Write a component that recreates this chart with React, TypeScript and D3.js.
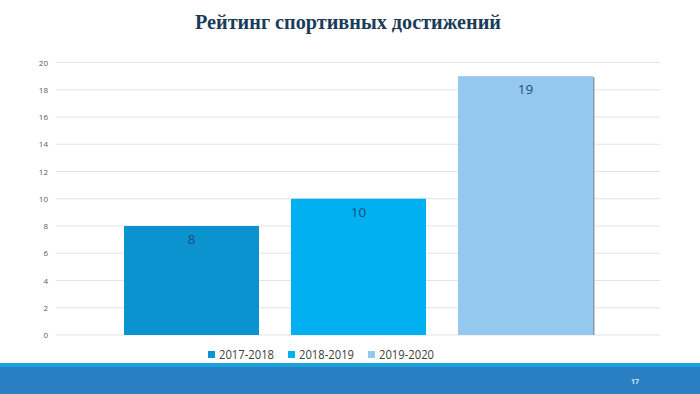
import React from "react";
import * as d3 from "d3";

const title = "Рейтинг спортивных достижений";
const seriesNames = ["2017-2018", "2018-2019", "2019-2020"];
const seriesValues = [8, 10, 19];
const seriesColors = ["#0a93cf", "#00b0f0", "#95c8ee"];
const yTicks = [0, 2, 4, 6, 8, 10, 12, 14, 16, 18, 20];
const pageNumber = "17";

export default function App() {
  const W = 700, H = 394;
  const y = d3.scaleLinear().domain([0, 20]).range([335, 62.5]);
  const x = d3.scaleBand<string>().domain(seriesNames).range([124, 593]).paddingInner(0.1916).paddingOuter(0);
  const legendX = [208, 288, 368];
  return (
    <svg width={W} height={H} style={{ position: "absolute", left: 0, top: 0, display: "block" }}>
      <rect x={0} y={0} width={W} height={H} fill="#ffffff" />
      <text x={348} y={29} textAnchor="middle" fontFamily="'Liberation Serif', serif" fontWeight="bold" fontSize={21} fill="#1a3c58" textLength={306} lengthAdjust="spacingAndGlyphs">{title}</text>
      {yTicks.map((t) => (
        <g key={t}>
          <line x1={56} x2={660} y1={y(t)} y2={y(t)} stroke="#e3e3e3" strokeWidth={1} />
          <text x={48} y={y(t) + 3} textAnchor="end" fontFamily="'Open Sans', sans-serif" fontSize={8} fill="#595959">{t}</text>
        </g>
      ))}
      {seriesNames.map((s, i) => {
        const x0 = x(s)!;
        const v = seriesValues[i];
        return (
          <g key={s}>
            {i === 2 && (
              <rect x={x0 + 1.5} y={y(v) + 1} width={x.bandwidth()} height={y(0) - y(v) - 1} fill="#8a9aa8" />
            )}
            <rect x={x0} y={y(v)} width={x.bandwidth()} height={y(0) - y(v)} fill={seriesColors[i]} />
            <text x={x0 + x.bandwidth() / 2} y={y(v) + 18} textAnchor="middle" fontFamily="'Open Sans', sans-serif" fontSize={13.5} fill="#1f4f7a">{v}</text>
          </g>
        );
      })}
      {seriesNames.map((s, i) => (
        <g key={"lg" + s}>
          <rect x={legendX[i]} y={351} width={7} height={7} fill={seriesColors[i]} />
          <text x={legendX[i] + 11} y={359} fontFamily="'Open Sans', sans-serif" fontSize={13.5} fill="#404040" textLength={55} lengthAdjust="spacingAndGlyphs">{s}</text>
        </g>
      ))}
      <rect x={0} y={363} width={W} height={31} fill="#2a7fc3" />
      <rect x={0} y={363} width={W} height={4} fill="#1ba1db" />
      <text x={635} y={384} textAnchor="middle" fontFamily="'Open Sans', sans-serif" fontWeight="bold" fontSize={7} fill="#cfe6f7">{pageNumber}</text>
    </svg>
  );
}
